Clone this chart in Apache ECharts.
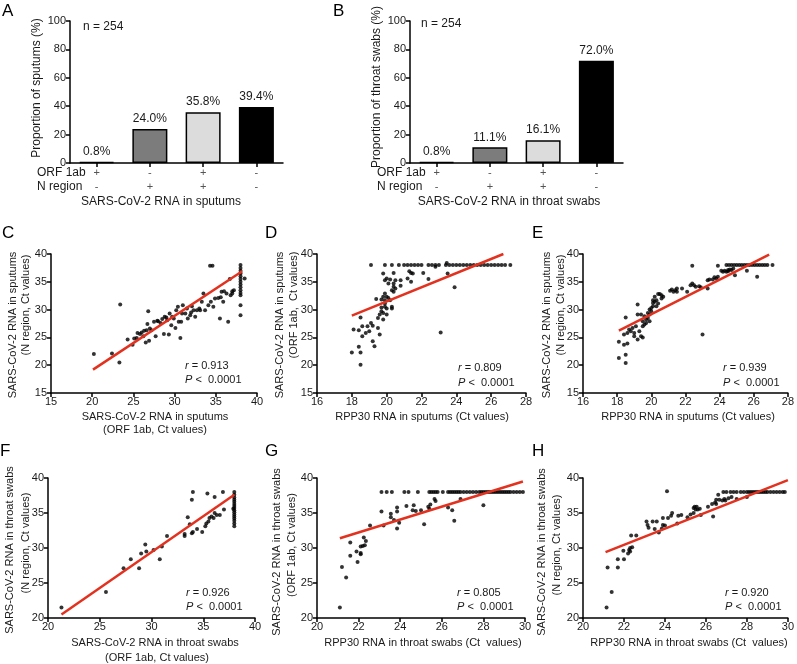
<!DOCTYPE html>
<html>
<head>
<meta charset="utf-8">
<script src="https://cdn.jsdelivr.net/npm/echarts@6/dist/echarts.min.js"></script>
<style>html,body{margin:0;padding:0;background:#fff}#c{width:797px;height:664px}</style>
</head>
<body>
<div id="c"></div>
<script>
// ---------- DATA ----------
const barCats = ['ORF+ N-', 'ORF- N+', 'ORF+ N+', 'ORF- N-'];
const orf1abSigns = ['+', '-', '+', '-'];
const nRegionSigns = ['-', '+', '+', '-'];
const sputumPct = [0.8, 24.0, 35.8, 39.4];
const throatPct = [0.8, 11.1, 16.1, 72.0];
const sampleN = 'n = 254';

// C: sputum ORF1ab Ct (x) vs sputum N region Ct (y)
const panelC = [[20.2,22.0],[22.4,22.1],[23.3,20.5],[23.4,30.9],[24.3,24.6],[24.9,23.7],[25.1,24.8],[25.4,24.9],[25.5,25.8],[25.8,25.6],[26.0,25.9],[26.2,25.2],[26.3,26.2],[26.5,24.1],[26.6,26.3],[26.7,27.4],[26.8,29.7],[26.9,24.4],[27.0,26.6],[27.2,26.3],[27.5,27.8],[27.7,25.2],[27.9,28.0],[28.0,27.9],[28.3,27.6],[28.5,28.3],[28.7,25.6],[28.8,28.7],[29.0,28.6],[29.1,28.1],[29.3,25.5],[29.4,29.3],[29.6,27.2],[29.7,28.7],[29.9,28.4],[30.1,26.7],[30.2,29.9],[30.4,30.5],[30.5,27.8],[30.7,24.9],[30.8,27.8],[30.9,29.3],[31.0,30.8],[31.3,29.3],[31.5,30.2],[31.6,28.4],[31.9,29.0],[32.0,29.5],[32.1,30.6],[32.3,29.9],[32.5,28.7],[32.7,29.9],[33.0,30.2],[33.1,29.9],[33.3,31.4],[33.5,32.9],[33.7,29.9],[34.1,30.8],[34.3,37.9],[34.6,37.9],[34.4,31.4],[34.7,30.5],[34.9,32.0],[35.3,32.1],[35.5,28.4],[35.6,32.2],[35.7,33.2],[35.9,31.4],[36.0,33.3],[36.3,32.9],[36.5,27.8],[36.7,35.5],[36.8,32.6],[37.0,32.9],[37.0,33.3],[37.2,33.5],[38,38],[38,37.5],[38,37],[38,36.5],[38,36],[38,35.5],[38,35],[38,34.5],[38,34],[38,33.5],[38,33],[38,32.6],[38,30.8],[38,29.0],[38.5,35.6]];
const fitC = [[20.1,19.2],[38.2,36.9]];

// D: RPP30 in sputums (x) vs sputum ORF1ab Ct (y)
const panelD = [[18.0,22.3],[18.1,26.4],[18.4,26.3],[18.5,28.6],[18.4,23.3],[18.5,22.3],[18.5,20.1],[18.6,27.0],[18.6,25.2],[18.8,25.8],[18.9,27.0],[19.0,26.1],[19.1,27.6],[19.2,27.1],[19.2,24.3],[19.3,23.4],[19.4,31.9],[19.5,28.5],[19.5,26.7],[19.6,25.5],[19.6,29.1],[19.7,31.8],[19.7,30.4],[19.8,36.5],[19.8,28.2],[19.7,29.7],[19.9,31.1],[19.8,32.3],[19.8,29.4],[19.9,35.3],[19.9,30.5],[19.9,31.7],[19.9,32.9],[20.0,32.3],[20.0,29.1],[20.0,30.2],[20.0,35.6],[20.1,32.1],[20.1,34.7],[20.2,31.7],[20.2,35.4],[20.3,30.5],[20.3,30.2],[20.3,33.5],[20.4,34.1],[20.4,36.6],[20.4,34.7],[20.4,33.2],[20.5,33.8],[20.5,35.3],[20.8,35.3],[20.8,34.3],[21.2,35.6],[21.3,36.9],[21.4,36.6],[21.5,36.5],[21.4,35.0],[22.1,36.6],[22.4,35.5],[22.8,37.7],[23.1,25.9],[23.5,36.5],[23.9,34.0],[23.45,38.4],
[19.1,38],[19.9,38],[20.3,38],[20.7,38],[21.0,38],[21.2,38],[21.4,38],[21.6,38],[21.8,38],[22.0,38],[22.4,38],[22.6,38],[22.8,38],[23.0,38],[23.4,38],[23.6,38],[23.8,38],[24.0,38],[24.2,38],[24.4,38],[24.6,38],[24.8,38],[25.0,38],[25.2,38],[25.4,38],[25.6,38],[25.8,38],[26.0,38],[26.2,38],[26.4,38],[26.6,38],[26.8,38],[27.1,38]];
const fitD = [[18.0,28.9],[26.7,40.0]];

// E: RPP30 in sputums (x) vs sputum N region Ct (y)
const panelE = [[18.1,21.3],[18.1,24.2],[18.4,25.5],[18.4,23.7],[18.5,21.9],[18.5,20.4],[18.5,28.6],[18.6,23.9],[18.6,25.8],[18.7,26.4],[18.8,26.1],[18.9,26.7],[19.0,25.8],[19.0,25.2],[19.1,27.0],[19.2,29.1],[19.2,24.6],[19.2,30.9],[19.3,26.1],[19.4,25.2],[19.4,29.1],[19.5,27.0],[19.5,25.0],[19.5,27.9],[19.6,27.3],[19.6,28.8],[19.7,28.2],[19.7,27.6],[19.8,29.4],[19.8,28.5],[19.9,30.0],[19.9,27.9],[19.9,29.1],[20.0,30.3],[20.0,29.7],[20.1,31.2],[20.1,31.7],[20.1,30.6],[20.2,32.3],[20.2,31.4],[20.3,30.6],[20.3,31.7],[20.4,32.8],[20.4,31.1],[20.5,32.8],[20.6,32.0],[20.6,32.6],[20.7,32.3],[21.1,33.4],[21.2,33.6],[21.3,33.2],[21.4,33.5],[21.5,33.8],[21.5,33.2],[21.8,33.8],[22.1,33.2],[22.3,34.4],[22.4,37.9],[22.4,34.7],[22.5,34.4],[22.6,34.1],[22.8,34.2],[22.9,34.0],[23.0,25.5],[23.3,33.8],[23.3,35.3],[23.4,35.4],[23.6,35.4],[23.7,35.8],[23.8,35.6],[23.9,37.9],[23.9,35.9],[24.1,37.0],[24.2,36.8],[24.3,37.0],[24.4,36.8],[24.5,37.1],[24.5,36.9],[24.6,37.2],[24.7,37.1],[24.8,37.4],[24.9,36.2],[25.6,37.0],[26.2,35.9],
[24.4,38],[24.55,38],[24.7,38],[24.85,38],[25.0,38],[25.15,38],[25.3,38],[25.45,38],[25.6,38],[25.75,38],[25.9,38],[26.05,38],[26.2,38],[26.35,38],[26.5,38],[26.65,38],[26.8,38],[27.1,38]];
const fitE = [[18.1,26.2],[26.9,39.9]];

// F: throat ORF1ab Ct (x) vs throat N region Ct (y)
const panelF = [[21.3,21.5],[25.6,23.7],[27.3,27.1],[28.0,28.4],[28.8,27.1],[29.0,29.2],[29.4,30.5],[29.5,29.5],[30.2,29.7],[30.8,28.4],[31.0,30.2],[31.5,31.7],[33.2,31.7],[33.2,32.0],[33.5,34.4],[33.7,33.4],[33.9,32.1],[34.0,38.0],[33.9,36.9],[34.0,32.3],[34.4,32.7],[34.9,32.3],[35.2,33.1],[35.3,33.5],[35.4,37.8],[35.5,33.8],[35.6,34.3],[35.8,34.5],[36.0,34.3],[36.1,37.3],[36.1,35.0],[36.3,34.7],[36.6,34.7],[36.9,38.0],[37.0,35.5],[37.9,35.6],
[38,38],[38,37.6],[38,37.2],[38,36.9],[38,36.6],[38,36.3],[38,36.0],[38,35.7],[38,35.4],[38,35.1],[38,34.8],[38,34.5],[38,34.2],[38,33.9],[38,33.5],[38,33.1]];
const fitF = [[21.3,20.5],[38.0,37.6]];

// G: RPP30 in throat swabs (x) vs throat ORF1ab Ct (y)
const panelG = [[21.1,21.5],[21.2,27.3],[21.4,25.8],[21.6,30.8],[21.6,28.9],[21.9,29.5],[21.95,28.0],[22.1,30.2],[22.1,29.1],[22.1,29.3],[22.2,30.3],[22.25,31.5],[22.3,30.4],[22.35,31.0],[22.55,33.2],[23.1,35.2],[23.2,33.2],[23.55,34.4],[23.55,34.9],[23.7,34.0],[23.85,35.2],[23.85,35.8],[23.85,32.8],[23.95,33.6],[24.3,36.0],[24.6,35.4],[24.65,36.1],[24.75,35.3],[25.0,35.4],[25.15,33.4],[25.35,35.9],[25.4,35.6],[25.45,36.2],[25.65,37.0],[25.7,36.7],[26.3,35.8],[26.5,35.4],[26.6,33.9],[26.9,37.0],[28.0,36.1],
[23.1,38],[23.35,38],[23.6,38],[24.2,38],[24.4,38],[24.85,38],[25.4,38],[25.5,38],[25.6,38],[25.7,38],[25.8,38],[26.05,38],[26.3,38],[26.4,38],[26.5,38],[26.6,38],[26.7,38],[26.8,38],[26.9,38],[27.05,38],[27.2,38],[27.35,38],[27.5,38],[27.65,38],[27.8,38],[27.9,38],[28.0,38],[28.1,38],[28.2,38],[28.3,38],[28.4,38],[28.5,38],[28.6,38],[28.7,38],[28.8,38],[28.9,38],[29.0,38],[29.1,38],[29.2,38],[29.3,38],[29.45,38],[29.6,38],[29.75,38],[29.9,38]];
const fitG = [[21.1,31.4],[29.9,39.5]];

// H: RPP30 in throat swabs (x) vs throat N region Ct (y)
const panelH = [[21.15,21.5],[21.2,27.2],[21.4,23.7],[21.7,28.4],[21.7,27.2],[21.97,29.6],[22.0,28.4],[22.2,29.2],[22.25,29.7],[22.3,29.5],[22.3,30.0],[22.35,31.8],[22.4,30.1],[22.6,31.8],[23.1,33.8],[23.15,33.3],[23.2,32.9],[23.4,33.8],[23.5,32.7],[23.6,33.8],[23.7,32.2],[23.85,32.8],[23.9,33.3],[23.9,34.3],[24.0,33.2],[24.1,38.1],[24.15,34.3],[24.3,34.6],[24.35,35.0],[24.6,33.5],[24.65,34.6],[24.8,34.7],[25.1,34.4],[25.25,34.8],[25.4,35.7],[25.4,35.0],[25.45,35.9],[25.5,35.5],[25.55,35.9],[25.6,35.5],[25.7,35.6],[25.75,34.7],[26.1,35.9],[26.3,36.3],[26.35,34.5],[26.45,36.5],[26.5,36.3],[26.5,36.9],[26.6,37.6],[26.65,36.9],[26.8,36.8],[26.9,37.0],[26.95,36.8],[27.1,37.1],[27.25,37.3],[27.5,37.0],[28.0,37.3],
[26.85,38],[27.0,38],[27.2,38],[27.35,38],[27.5,38],[27.7,38],[27.85,38],[28.0,38],[28.1,38],[28.2,38],[28.3,38],[28.4,38],[28.5,38],[28.6,38],[28.7,38],[28.8,38],[28.9,38],[29.0,38],[29.15,38],[29.3,38],[29.45,38],[29.6,38],[29.75,38],[29.85,38]];
const fitH = [[21.1,29.4],[30.0,39.7]];

const stats = {C:['0.913','0.0001'], D:['0.809','0.0001'], E:['0.939','0.0001'], F:['0.926','0.0001'], G:['0.805','0.0001'], H:['0.920','0.0001']};

// ---------- STYLE / LAYOUT ----------
const FONT = "'Liberation Sans', Arial, Helvetica, sans-serif";
const TXT = '#1a1a1a';
const barFill = ['#ffffff', '#7c7c7c', '#dcdcdc', '#000000'];
const RED = '#e2321f';

const grids = [
  {left:70,  top:21,  width:213, height:142},  // A
  {left:410, top:21,  width:213, height:142},  // B
  {left:51,  top:254, width:206, height:139},  // C
  {left:317, top:254, width:209, height:139},  // D
  {left:583, top:254, width:209, height:139},  // E
  {left:48,  top:478, width:207, height:140},  // F
  {left:317, top:478, width:208, height:140},  // G
  {left:583, top:478, width:209, height:140}   // H
];

const axisLineS = {show:true, lineStyle:{color:'#000', width:1.5}};
const tickS = {show:true, length:4, lineStyle:{color:'#000', width:1.5}};
const labelS = {color:TXT, fontSize:11, fontFamily:FONT, margin:4};

const xAxes = [], yAxes = [];
// bar panels
[0,1].forEach(g => {
  xAxes.push({type:'category', gridIndex:g, data:barCats, axisLine:axisLineS,
    axisTick:{show:true, alignWithLabel:true, length:4, lineStyle:{color:'#000', width:1.5}},
    axisLabel:{color:'#555', fontSize:11, fontFamily:FONT, margin:3, lineHeight:14,
      formatter:(v, i) => orf1abSigns[i] + '\n' + nRegionSigns[i]}});
  yAxes.push({type:'value', gridIndex:g, min:0, max:100, interval:20, splitLine:{show:false},
    axisLine:axisLineS, axisTick:tickS, axisLabel:labelS});
});
// scatter panels
const scat = [
  {x:[15,40,5], y:[15,40,5]},
  {x:[16,28,2], y:[15,40,5]},
  {x:[16,28,2], y:[15,40,5]},
  {x:[20,40,5], y:[20,40,5]},
  {x:[20,30,2], y:[20,40,5]},
  {x:[20,30,2], y:[20,40,5]}
];
scat.forEach((s, k) => {
  const g = k + 2;
  xAxes.push({type:'value', gridIndex:g, min:s.x[0], max:s.x[1], interval:s.x[2], splitLine:{show:false},
    axisLine:axisLineS, axisTick:tickS, axisLabel:Object.assign({}, labelS, {margin:3})});
  yAxes.push({type:'value', gridIndex:g, min:s.y[0], max:s.y[1], interval:s.y[2], splitLine:{show:false},
    axisLine:axisLineS, axisTick:tickS, axisLabel:labelS});
});

const series = [];
[[sputumPct,0],[throatPct,1]].forEach(([vals, g]) => {
  series.push({type:'bar', xAxisIndex:g, yAxisIndex:g, barWidth:35,
    data: vals.map((v, i) => ({value:v, itemStyle:{color:barFill[i]}})),
    itemStyle:{borderColor:'#000', borderWidth:1.5},
    label:{show:true, position:'top', distance:4, color:TXT, fontSize:12, fontFamily:FONT,
      formatter:p => p.value.toFixed(1) + '%'}});
});
[[panelC,fitC],[panelD,fitD],[panelE,fitE],[panelF,fitF],[panelG,fitG],[panelH,fitH]].forEach(([pts, fit], k) => {
  const g = k + 2;
  series.push({type:'scatter', xAxisIndex:g, yAxisIndex:g, data:pts, symbolSize:4,
    itemStyle:{color:'#000'}, silent:true});
  series.push({type:'line', xAxisIndex:g, yAxisIndex:g, data:fit, symbol:'none',
    lineStyle:{color:RED, width:2.5}, silent:true, z:3});
});

function t(text, x, y, opt) {
  opt = opt || {};
  return {type:'text', x:x, y:y, rotation:opt.rot || 0, silent:true,
    style:{text:text, fill:opt.fill || TXT, font:(opt.size || 11) + 'px ' + FONT,
      align:opt.align || 'center', verticalAlign:opt.va || 'middle', rich:opt.rich}};
}
const R90 = Math.PI / 2;
const richIt = {i:{fontStyle:'italic', fontSize:11, fontFamily:FONT, fill:TXT}};
function statTexts(key, x, y1, y2) {
  return [
    t('{i|r} = ' + stats[key][0], x, y1, {align:'left', rich:richIt}),
    t('{i|P} <  ' + stats[key][1], x, y2, {align:'left', rich:richIt})
  ];
}

const graphics = [
  t('A', 2, 3, {size:17, align:'left', va:'top', fill:'#000'}),
  t('B', 333, 3, {size:17, align:'left', va:'top', fill:'#000'}),
  t('C', 2, 225, {size:17, align:'left', va:'top', fill:'#000'}),
  t('D', 265, 225, {size:17, align:'left', va:'top', fill:'#000'}),
  t('E', 532, 225, {size:17, align:'left', va:'top', fill:'#000'}),
  t('F', 0, 443, {size:17, align:'left', va:'top', fill:'#000'}),
  t('G', 265, 443, {size:17, align:'left', va:'top', fill:'#000'}),
  t('H', 532, 443, {size:17, align:'left', va:'top', fill:'#000'}),
  t(sampleN, 83, 27, {align:'left', size:12}),
  t(sampleN, 421, 24, {align:'left', size:12}),
  t('Proportion of sputums (%)', 37, 88, {rot:R90, size:12}),
  t('Proportion of throat swabs (%)', 377, 87, {rot:R90, size:12}),
  t('ORF 1ab', 37, 173, {align:'left', size:12}),
  t('N region', 37, 187, {align:'left', size:12}),
  t('ORF 1ab', 377, 173, {align:'left', size:12}),
  t('N region', 377, 187, {align:'left', size:12}),
  t('SARS-CoV-2 RNA in sputums', 161, 202, {size:12}),
  t('SARS-CoV-2 RNA in throat swabs', 509, 202, {size:12}),
  // C
  t('SARS-CoV-2 RNA in sputums', 13, 325, {rot:R90}),
  t('(N region, Ct values)', 26, 305, {rot:R90}),
  t('SARS-CoV-2 RNA in sputums', 155, 417),
  t('(ORF 1ab, Ct values)', 155, 430),
  // D
  t('SARS-CoV-2 RNA in sputums', 280, 325, {rot:R90}),
  t('(ORF 1ab,  Ct values)', 294, 305, {rot:R90}),
  t('RPP30 RNA in sputums (Ct values)', 422, 417),
  // E
  t('SARS-CoV-2 RNA in sputums', 547, 325, {rot:R90}),
  t('(N region, Ct values)', 561, 305, {rot:R90}),
  t('RPP30 RNA in sputums (Ct values)', 688, 417),
  // F
  t('SARS-CoV-2 RNA in throat swabs', 10, 550, {rot:R90}),
  t('(N region, Ct values)', 26, 543, {rot:R90}),
  t('SARS-CoV-2 RNA in throat swabs', 155, 643),
  t('(ORF 1ab, Ct values)', 157, 658),
  // G
  t('SARS-CoV-2 RNA in throat swabs', 277, 552, {rot:R90}),
  t('(ORF 1ab, Ct values)', 292, 545, {rot:R90}),
  t('RPP30 RNA in throat swabs (Ct  values)', 423, 643),
  // H
  t('SARS-CoV-2 RNA in throat swabs', 542, 552, {rot:R90}),
  t('(N region, Ct values)', 557, 545, {rot:R90}),
  t('RPP30 RNA in throat swabs (Ct  values)', 689, 643)
].concat(
  statTexts('C', 185, 366, 380),
  statTexts('D', 458, 368, 383),
  statTexts('E', 723, 368, 383),
  statTexts('F', 186, 593, 607),
  statTexts('G', 457, 593, 607),
  statTexts('H', 725, 593, 607)
);

const chart = echarts.init(document.getElementById('c'), null, {renderer:'canvas'});
chart.setOption({
  animation:false,
  backgroundColor:'#fff',
  textStyle:{fontFamily:FONT},
  grid:grids,
  xAxis:xAxes,
  yAxis:yAxes,
  series:series,
  graphic:graphics
});
</script>
</body>
</html>
